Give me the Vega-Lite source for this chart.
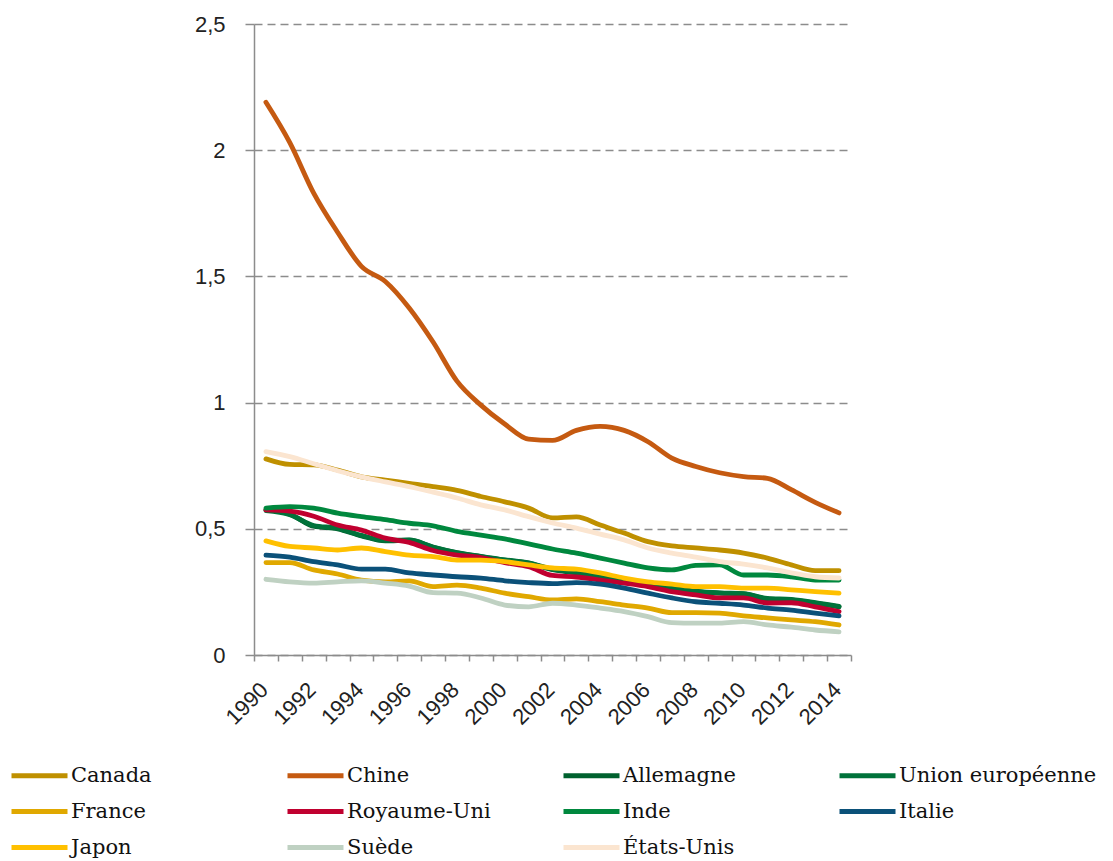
{
  "$schema": "https://vega.github.io/schema/vega-lite/v6.json",
  "autosize": {"type": "none"},
  "padding": {"left": 254, "top": 24, "right": 262, "bottom": 206},
  "width": 597,
  "height": 631,
  "background": "white",
  "config": {"view": {"stroke": null}},
  "data": {"values": [
    {"annee": 1990, "Canada": 0.777, "Chine": 2.19, "Allemagne": 0.575, "Union européenne": 0.572, "France": 0.366, "Royaume-Uni": 0.575, "Inde": 0.582, "Italie": 0.396, "Japon": 0.452, "Suède": 0.300, "États-Unis": 0.806},
    {"annee": 1991, "Canada": 0.755, "Chine": 2.03, "Allemagne": 0.558, "Union européenne": 0.556, "France": 0.366, "Royaume-Uni": 0.570, "Inde": 0.588, "Italie": 0.388, "Japon": 0.430, "Suède": 0.290, "États-Unis": 0.786},
    {"annee": 1992, "Canada": 0.753, "Chine": 1.83, "Allemagne": 0.510, "Union européenne": 0.513, "France": 0.337, "Royaume-Uni": 0.550, "Inde": 0.582, "Italie": 0.370, "Japon": 0.424, "Suède": 0.285, "États-Unis": 0.758},
    {"annee": 1993, "Canada": 0.733, "Chine": 1.675, "Allemagne": 0.500, "Union européenne": 0.502, "France": 0.321, "Royaume-Uni": 0.515, "Inde": 0.562, "Italie": 0.357, "Japon": 0.416, "Suède": 0.290, "États-Unis": 0.730},
    {"annee": 1994, "Canada": 0.706, "Chine": 1.54, "Allemagne": 0.472, "Union européenne": 0.474, "France": 0.297, "Royaume-Uni": 0.495, "Inde": 0.548, "Italie": 0.340, "Japon": 0.424, "Suède": 0.294, "États-Unis": 0.706},
    {"annee": 1995, "Canada": 0.693, "Chine": 1.48, "Allemagne": 0.452, "Union européenne": 0.454, "France": 0.290, "Royaume-Uni": 0.463, "Inde": 0.536, "Italie": 0.340, "Japon": 0.410, "Suède": 0.285, "États-Unis": 0.686},
    {"annee": 1996, "Canada": 0.680, "Chine": 1.375, "Allemagne": 0.455, "Union européenne": 0.456, "France": 0.294, "Royaume-Uni": 0.446, "Inde": 0.522, "Italie": 0.325, "Japon": 0.396, "Suède": 0.273, "États-Unis": 0.667},
    {"annee": 1997, "Canada": 0.667, "Chine": 1.24, "Allemagne": 0.427, "Union européenne": 0.428, "France": 0.271, "Royaume-Uni": 0.414, "Inde": 0.512, "Italie": 0.317, "Japon": 0.390, "Suède": 0.247, "États-Unis": 0.645},
    {"annee": 1998, "Canada": 0.652, "Chine": 1.085, "Allemagne": 0.405, "Union européenne": 0.406, "France": 0.277, "Royaume-Uni": 0.396, "Inde": 0.490, "Italie": 0.310, "Japon": 0.376, "Suède": 0.245, "États-Unis": 0.622},
    {"annee": 1999, "Canada": 0.628, "Chine": 0.99, "Allemagne": 0.390, "Union européenne": 0.391, "France": 0.265, "Royaume-Uni": 0.386, "Inde": 0.475, "Italie": 0.305, "Japon": 0.376, "Suède": 0.226, "États-Unis": 0.595},
    {"annee": 2000, "Canada": 0.607, "Chine": 0.915, "Allemagne": 0.376, "Union européenne": 0.377, "France": 0.245, "Royaume-Uni": 0.366, "Inde": 0.460, "Italie": 0.294, "Japon": 0.370, "Suède": 0.198, "États-Unis": 0.575},
    {"annee": 2001, "Canada": 0.582, "Chine": 0.855, "Allemagne": 0.364, "Union européenne": 0.365, "France": 0.231, "Royaume-Uni": 0.350, "Inde": 0.440, "Italie": 0.287, "Japon": 0.357, "Suède": 0.191, "États-Unis": 0.548},
    {"annee": 2002, "Canada": 0.543, "Chine": 0.85, "Allemagne": 0.338, "Union européenne": 0.340, "France": 0.218, "Royaume-Uni": 0.315, "Inde": 0.420, "Italie": 0.283, "Japon": 0.345, "Suède": 0.205, "États-Unis": 0.523},
    {"annee": 2003, "Canada": 0.547, "Chine": 0.89, "Allemagne": 0.325, "Union européenne": 0.327, "France": 0.222, "Royaume-Uni": 0.309, "Inde": 0.404, "Italie": 0.287, "Japon": 0.340, "Suède": 0.198, "États-Unis": 0.503},
    {"annee": 2004, "Canada": 0.515, "Chine": 0.906, "Allemagne": 0.310, "Union européenne": 0.312, "France": 0.211, "Royaume-Uni": 0.297, "Inde": 0.384, "Italie": 0.281, "Japon": 0.325, "Suède": 0.186, "États-Unis": 0.479},
    {"annee": 2005, "Canada": 0.483, "Chine": 0.89, "Allemagne": 0.290, "Union européenne": 0.292, "France": 0.198, "Royaume-Uni": 0.285, "Inde": 0.364, "Italie": 0.265, "Japon": 0.305, "Suède": 0.172, "États-Unis": 0.456},
    {"annee": 2006, "Canada": 0.449, "Chine": 0.845, "Allemagne": 0.277, "Union européenne": 0.279, "France": 0.186, "Royaume-Uni": 0.271, "Inde": 0.345, "Italie": 0.245, "Japon": 0.290, "Suède": 0.152, "États-Unis": 0.424},
    {"annee": 2007, "Canada": 0.432, "Chine": 0.78, "Allemagne": 0.265, "Union européenne": 0.267, "France": 0.168, "Royaume-Uni": 0.251, "Inde": 0.337, "Italie": 0.226, "Japon": 0.281, "Suède": 0.128, "États-Unis": 0.404},
    {"annee": 2008, "Canada": 0.424, "Chine": 0.747, "Allemagne": 0.251, "Union européenne": 0.253, "France": 0.168, "Royaume-Uni": 0.238, "Inde": 0.355, "Italie": 0.211, "Japon": 0.271, "Suède": 0.126, "États-Unis": 0.388},
    {"annee": 2009, "Canada": 0.416, "Chine": 0.722, "Allemagne": 0.245, "Union européenne": 0.246, "France": 0.166, "Royaume-Uni": 0.226, "Inde": 0.357, "Italie": 0.205, "Japon": 0.271, "Suède": 0.126, "États-Unis": 0.370},
    {"annee": 2010, "Canada": 0.404, "Chine": 0.707, "Allemagne": 0.242, "Union européenne": 0.243, "France": 0.155, "Royaume-Uni": 0.226, "Inde": 0.317, "Italie": 0.198, "Japon": 0.265, "Suède": 0.132, "États-Unis": 0.360},
    {"annee": 2011, "Canada": 0.384, "Chine": 0.70, "Allemagne": 0.222, "Union européenne": 0.224, "France": 0.147, "Royaume-Uni": 0.206, "Inde": 0.317, "Italie": 0.186, "Japon": 0.265, "Suède": 0.119, "États-Unis": 0.345},
    {"annee": 2012, "Canada": 0.357, "Chine": 0.655, "Allemagne": 0.218, "Union européenne": 0.220, "France": 0.139, "Royaume-Uni": 0.207, "Inde": 0.310, "Italie": 0.178, "Japon": 0.258, "Suède": 0.110, "États-Unis": 0.325},
    {"annee": 2013, "Canada": 0.334, "Chine": 0.605, "Allemagne": 0.206, "Union européenne": 0.208, "France": 0.132, "Royaume-Uni": 0.191, "Inde": 0.297, "Italie": 0.166, "Japon": 0.251, "Suède": 0.099, "États-Unis": 0.310},
    {"annee": 2014, "Canada": 0.334, "Chine": 0.563, "Allemagne": 0.191, "Union européenne": 0.193, "France": 0.119, "Royaume-Uni": 0.172, "Inde": 0.297, "Italie": 0.155, "Japon": 0.245, "Suède": 0.092, "États-Unis": 0.305}
  ]},
  "transform": [
    {"fold": ["Canada", "Chine", "Allemagne", "Union européenne", "France", "Royaume-Uni", "Inde", "Italie", "Japon", "Suède", "États-Unis"], "as": ["pays", "valeur"]}
  ],
  "mark": {"type": "line", "interpolate": "monotone", "strokeWidth": 4.8, "strokeCap": "round", "strokeJoin": "round"},
  "encoding": {
    "x": {
      "field": "annee", "type": "quantitative",
      "scale": {"domain": [1989.5, 2014.5], "nice": false, "zero": false},
      "axis": {
        "title": null,
        "values": [1989.5, 1990.5, 1991.5, 1992.5, 1993.5, 1994.5, 1995.5, 1996.5, 1997.5, 1998.5, 1999.5, 2000.5, 2001.5, 2002.5, 2003.5, 2004.5, 2005.5, 2006.5, 2007.5, 2008.5, 2009.5, 2010.5, 2011.5, 2012.5, 2013.5, 2014.5],
        "labelExpr": "(datum.value + 0.5) % 2 == 0 ? format(datum.value + 0.5, 'd') : ''",
        "labelOverlap": false,
        "labelFlush": false,
        "labelAngle": -45,
        "labelAlign": "right",
        "labelBaseline": "middle",
        "labelOffset": 10,
        "labelPadding": 25,
        "labelFont": "Liberation Sans",
        "labelFontSize": 22,
        "labelColor": "#222222",
        "tickSize": 6,
        "tickColor": "#8c8c8c",
        "tickWidth": 1.5,
        "domainColor": "#8c8c8c",
        "domainWidth": 1.5,
        "grid": false
      }
    },
    "y": {
      "field": "valeur", "type": "quantitative",
      "scale": {"domain": [0, 2.5], "nice": false},
      "axis": {
        "title": null,
        "values": [0, 0.5, 1, 1.5, 2, 2.5],
        "labelExpr": "replace(toString(datum.value), '.', ',')",
        "labelFont": "Liberation Sans",
        "labelFontSize": 22,
        "labelColor": "#222222",
        "labelPadding": 20,
        "tickSize": 9,
        "tickColor": "#8c8c8c",
        "tickWidth": 1.5,
        "domainColor": "#8c8c8c",
        "domainWidth": 1.5,
        "grid": true,
        "gridColor": "#8c8c8c",
        "gridDash": [8, 5],
        "gridWidth": 1.5
      }
    },
    "color": {
      "field": "pays", "type": "nominal",
      "scale": {
        "domain": ["Canada", "Chine", "Allemagne", "Union européenne", "France", "Royaume-Uni", "Inde", "Italie", "Japon", "Suède", "États-Unis"],
        "range": ["#BF9000", "#C55A11", "#00612E", "#00723A", "#E0A800", "#C0002F", "#00883E", "#0B5179", "#FFC000", "#BFD1C2", "#FBE5D0"]
      },
      "legend": {
        "title": null,
        "orient": "none",
        "legendX": -245,
        "legendY": 735,
        "direction": "horizontal",
        "columns": 4,
        "gridAlign": "all",
        "columnPadding": 8,
        "rowPadding": 9,
        "symbolType": "M-1,0H3",
        "symbolSize": 784,
        "symbolStrokeWidth": 5,
        "labelOffset": 29,
        "labelFont": "DejaVu Serif",
        "labelFontSize": 21,
        "labelColor": "#111111",
        "labelLimit": 400,
        "padding": 0
      }
    }
  }
}
